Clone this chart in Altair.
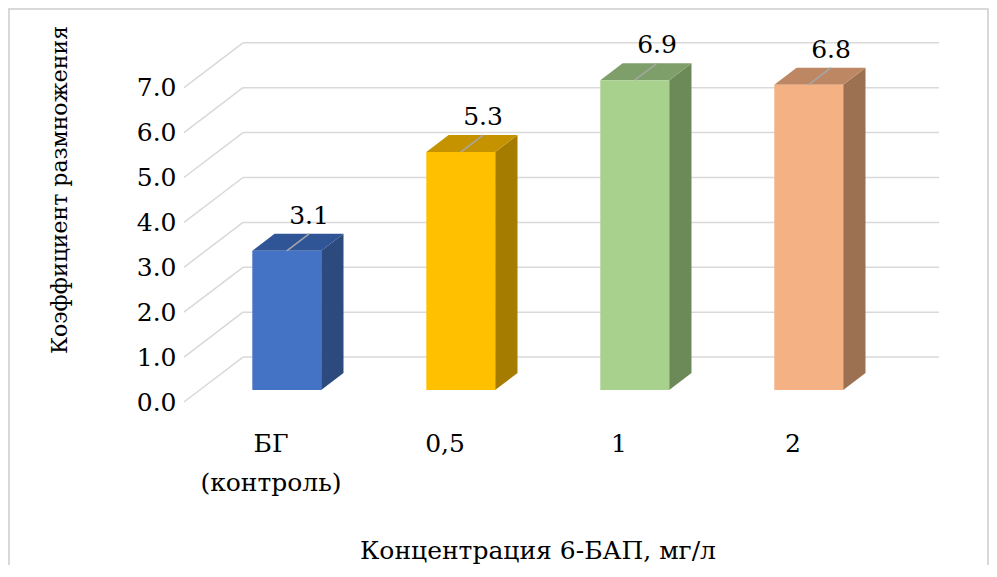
import altair as alt
import pandas as pd

# ---- data ----
categories = ["БГ\n(контроль)", "0,5", "1", "2"]
values = [3.1, 5.3, 6.9, 6.8]
front_colors = ["#4472C4", "#FFC000", "#A9D18E", "#F4B183"]
top_colors = ["#2F5597", "#C59300", "#7F9F6A", "#BD8764"]
side_colors = ["#2C4A7E", "#A67C00", "#6C8A58", "#9C7152"]
y_ticks = [0, 1, 2, 3, 4, 5, 6, 7]
y_title = "Коэффициент размножения"
x_title = "Концентрация 6-БАП, мг/л"

# ---- 3-D projection parameters (style/geometry) ----
KX = 0.339   # depth -> category units
KY = 1.0     # depth -> value units
D0 = 0.267   # bar front depth
DD = 0.378   # bar depth thickness
HW = 0.198   # half bar width (category units)

W, H = 981, 557
FONT = "DejaVu Serif"
FS = 25
GRID = "#d9d9d9"

xs = alt.Scale(domain=[-0.5, 3.5], range=[176, 872], nice=False, zero=False)
ys = alt.Scale(domain=[0, 8], range=[394, 34.8], nice=False)
yaxis = alt.Axis(values=y_ticks, format=".1f", offset=-170, domain=False, ticks=False,
                 tickSize=0, grid=False, labelPadding=2, labelFont=FONT,
                 labelFontSize=FS, labelColor="#000000", title=None)

# back-wall gridlines and side-wall diagonals
back = pd.DataFrame({"x": [-0.5 + KX] * len(y_ticks), "x2": [3.5 + KX] * len(y_ticks),
                     "y": [v + KY for v in y_ticks]})
sidew = pd.DataFrame({"x": [-0.5] * len(y_ticks), "x2": [-0.5 + KX] * len(y_ticks),
                      "y": y_ticks, "y2": [v + KY for v in y_ticks]})

front_rows, side_rows, top_rows, lab_rows = [], [], [], []
for i, (cat, v) in enumerate(zip(categories, values)):
    c = float(i)
    front_rows.append({"x": c - HW + D0 * KX, "x2": c + HW + D0 * KX,
                       "y": D0 * KY, "y2": v + D0 * KY, "col": front_colors[i]})
    for d in (D0, D0 + DD):
        side_rows.append({"x": c + HW + d * KX, "y": d * KY, "y2": v + d * KY,
                          "col": side_colors[i]})
        top_rows.append({"y": v + d * KY, "x": c - HW + d * KX, "x2": c + HW + d * KX,
                         "col": top_colors[i]})
    lab_rows.append({"x": c + D0 * KX, "y": v + D0 * KY,
                     "x2": c + (D0 + DD) * KX, "y2": v + (D0 + DD) * KY,
                     "label": f"{v:.1f}", "cat": cat, "c": c})

front = pd.DataFrame(front_rows)
side = pd.DataFrame(side_rows)
top = pd.DataFrame(top_rows)
labs = pd.DataFrame(lab_rows)

back_l = alt.Chart(back).mark_rule(color=GRID, strokeWidth=1.5).encode(
    x=alt.X("x:Q", scale=xs, axis=None), x2="x2:Q",
    y=alt.Y("y:Q", scale=ys, axis=yaxis))
side_l = alt.Chart(sidew).mark_rule(color=GRID, strokeWidth=1.5).encode(
    x=alt.X("x:Q", scale=xs, axis=None), x2="x2:Q",
    y=alt.Y("y:Q", scale=ys, axis=yaxis), y2="y2:Q")

side_f = alt.Chart(side).mark_area(opacity=1).encode(
    x=alt.X("x:Q", scale=xs, axis=None),
    y=alt.Y("y:Q", scale=ys, axis=yaxis), y2="y2:Q",
    color=alt.Color("col:N", scale=None))
top_f = alt.Chart(top).mark_area(orient="horizontal", opacity=1).encode(
    y=alt.Y("y:Q", scale=ys, axis=yaxis),
    x=alt.X("x:Q", scale=xs, axis=None), x2="x2:Q",
    color=alt.Color("col:N", scale=None))
front_f = alt.Chart(front).mark_rect().encode(
    x=alt.X("x:Q", scale=xs, axis=None), x2="x2:Q",
    y=alt.Y("y:Q", scale=ys, axis=yaxis), y2="y2:Q",
    color=alt.Color("col:N", scale=None))

leader = alt.Chart(labs).mark_rule(color="#a6a6a6", strokeWidth=1.5).encode(
    x=alt.X("x:Q", scale=xs, axis=None), x2="x2:Q",
    y=alt.Y("y:Q", scale=ys, axis=yaxis), y2="y2:Q")
vlabels = alt.Chart(labs).mark_text(font=FONT, fontSize=FS, color="#000000",
                                    baseline="alphabetic", dy=-10).encode(
    x=alt.X("x2:Q", scale=xs, axis=None),
    y=alt.Y("y2:Q", scale=ys, axis=yaxis),
    text="label:N")

xlabels = alt.Chart(labs).mark_text(font=FONT, fontSize=FS, color="#000000",
                                    baseline="top", lineBreak="\n", lineHeight=39).encode(
    x=alt.X("c:Q", scale=xs, axis=None),
    y=alt.value(424),
    text="cat:N")

titles = pd.DataFrame({"t": [y_title, x_title]})
ytitle = alt.Chart(titles.iloc[[0]]).mark_text(font=FONT, fontSize=22, color="#000000",
                                               angle=270, baseline="middle").encode(
    x=alt.value(52), y=alt.value(182), text="t:N")
xtitle = alt.Chart(titles.iloc[[1]]).mark_text(font=FONT, fontSize=FS,
                                               color="#000000", baseline="middle").encode(
    x=alt.value(530), y=alt.value(543), text="t:N")

frame_df = pd.DataFrame({"k": [0]})
frame_left = alt.Chart(frame_df).mark_rule(color=GRID, strokeWidth=2).encode(
    x=alt.value(1), y=alt.value(0), y2=alt.value(H))
frame_top = alt.Chart(frame_df).mark_rule(color=GRID, strokeWidth=2).encode(
    x=alt.value(0), x2=alt.value(W), y=alt.value(1))
frame_right = alt.Chart(frame_df).mark_rule(color=GRID, strokeWidth=2).encode(
    x=alt.value(W - 1), y=alt.value(0), y2=alt.value(H))

chart = alt.layer(
    frame_left, frame_top, frame_right, back_l, side_l, side_f, top_f, front_f,
    leader, vlabels, xlabels, ytitle, xtitle
).properties(
    width=W, height=H, padding=0, autosize=alt.AutoSizeParams(type="none")
).configure_view(stroke=None).configure(background="white")

chart.save("out.html", embed_options={"renderer": "svg", "actions": False})
